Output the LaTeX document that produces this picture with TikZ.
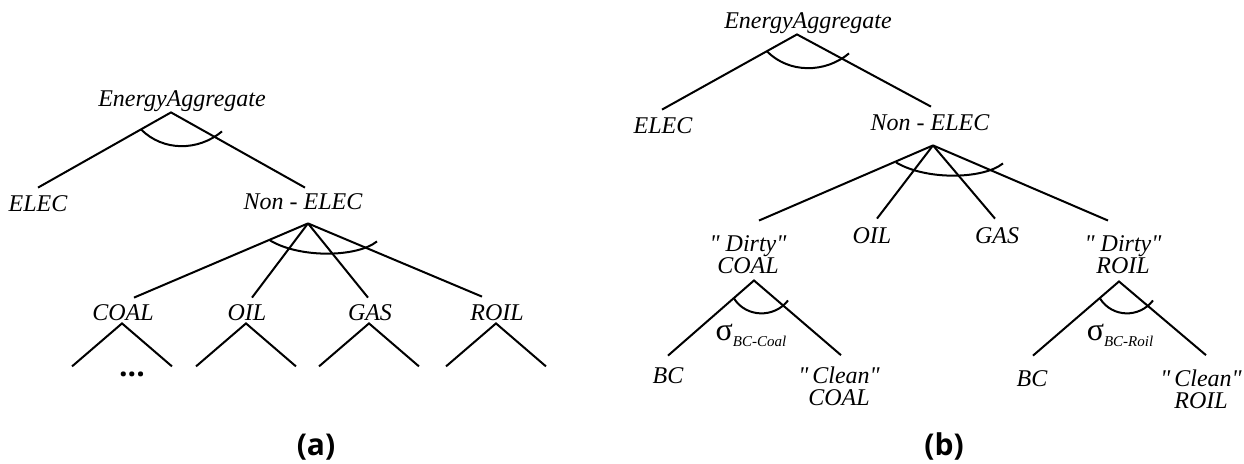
\documentclass[tikz,border=0pt]{standalone}
\usepackage{fontspec}
\setmainfont{Liberation Serif}
\newfontfamily\plainserif{Liberation Serif}
\newfontfamily\capfont{Open Sans}
\usetikzlibrary{positioning,calc}

\tikzset{
  lbl/.style={font=\plainserif\fontsize{12}{11}\selectfont\itshape, inner sep=0pt,
    text height=11.5pt, text depth=3pt, anchor=base},
  two/.style={font=\plainserif\fontsize{12}{11}\selectfont\itshape, inner xsep=0pt,
    inner ysep=5pt, align=center},
  sig/.style={font=\plainserif\fontsize{16}{16}\selectfont, inner sep=0pt, anchor=base},
  panellbl/.style={font=\capfont\bfseries\fontsize{15}{15}\selectfont, inner sep=0pt, anchor=base},
  branch/.style={line width=1pt}
}
\newcommand{\subsig}[1]{σ\raisebox{-3pt}{\fontsize{7.5}{8}\selectfont\itshape #1}}

\begin{document}
\begin{tikzpicture}[x=0.5pt,y=-0.5pt]
\useasboundingbox (0,0) rectangle (1244,463);

% (a) the nested tree
\node[lbl] (eaA) at (182,106) {EnergyAggregate};
\node[lbl] (elecA) at (38,211) {ELEC};
\node[lbl] (nonA) at (303,209) {Non - ELEC};
\node[lbl] (coalA) at (123,320) {COAL};
\node[lbl] (oilA) at (247,320) {OIL};
\node[lbl] (gasA) at (370,320) {GAS};
\node[lbl] (roilA) at (497,320) {ROIL};
\node[panellbl] (dotsA) at (132,376) {...};
\node[panellbl] (capA) at (316,455) {(a)};

\coordinate (eaA-t) at ([shift={(-11,0)}]eaA.south);
\draw[branch] (elecA.north) -- (eaA-t) -- ([shift={(2,2)}]nonA.north);
\draw[branch] ([shift={(-30,17)}]eaA-t) .. controls +(22,22) and +(-24,20) .. ([shift={(51,19)}]eaA-t);

\coordinate (nonA-t) at ([shift={(5,8)}]nonA.south);
\draw[branch] (nonA-t) -- ([shift={(11,1)}]coalA.north);
\draw[branch] (nonA-t) -- ([shift={(5,1)}]oilA.north);
\draw[branch] (nonA-t) -- ([shift={(-2,1)}]gasA.north);
\draw[branch] (nonA-t) -- ([shift={(-15,0)}]roilA.north);
\draw[branch] ([shift={(-38,17)}]nonA-t) .. controls +(30,18) and +(-20,16) .. ([shift={(69,18)}]nonA-t);

\foreach \n in {coalA,oilA,gasA,roilA}{
  \coordinate (\n-t) at ([shift={(-1,-3)}]\n.south);
  \coordinate (\n-l) at ([shift={(-50,43)}]\n-t);
  \coordinate (\n-r) at ([shift={(50,43)}]\n-t);
  \draw[branch] (\n-l) -- (\n-t) -- (\n-r);
}

% (b) with black carbon split
\node[lbl] (eaB) at (808,28) {EnergyAggregate};
\node[lbl] (elecB) at (663,133) {ELEC};
\node[lbl] (nonB) at (930,130) {Non - ELEC};
\node[two] (dcoalB) at (748,255) {" Dirty"\\COAL};
\node[lbl] (oilB) at (872,243) {OIL};
\node[lbl] (gasB) at (997,243) {GAS};
\node[two] (droilB) at (1123,255) {" Dirty"\\ROIL};
\node[lbl] (bcC) at (668,383) {BC};
\node[two] (cleanC) at (839,386) {"\,Clean"\\COAL};
\node[sig] (sigC) at (751,340) {\subsig{BC-Coal}};
\node[lbl] (bcR) at (1032,386) {BC};
\node[two] (cleanR) at (1201,389) {"\,Clean"\\ROIL};
\node[sig] (sigR) at (1120,340) {\subsig{BC-Roil}};
\node[panellbl] (capB) at (944,455) {(b)};

\coordinate (eaB-t) at ([shift={(-11,0)}]eaB.south);
\draw[branch] ([shift={(-1,0)}]elecB.north) -- (eaB-t) -- ([shift={(1,0)}]nonB.north);
\draw[branch] ([shift={(-30,17)}]eaB-t) .. controls +(22,22) and +(-24,20) .. ([shift={(52,19)}]eaB-t);

\coordinate (nonB-t) at ([shift={(3,9)}]nonB.south);
\draw[branch] (nonB-t) -- ([shift={(11,-5)}]dcoalB.north);
\draw[branch] (nonB-t) -- ([shift={(5,-1)}]oilB.north);
\draw[branch] (nonB-t) -- ([shift={(-2,-1)}]gasB.north);
\draw[branch] (nonB-t) -- ([shift={(-15,-5)}]droilB.north);
\draw[branch] ([shift={(-37,17)}]nonB-t) .. controls +(30,18) and +(-20,16) .. ([shift={(70,18)}]nonB-t);

\coordinate (dcoalB-t) at ([shift={(6,-4)}]dcoalB.south);
\draw[branch] ([shift={(0,-4)}]bcC.north) -- (dcoalB-t) -- ([shift={(2,-1)}]cleanC.north);
\draw[branch] ([shift={(-20,18)}]dcoalB-t) .. controls +(12,19) and +(-14,18) .. ([shift={(34,20)}]dcoalB-t);

\coordinate (droilB-t) at ([shift={(-4,-3)}]droilB.south);
\draw[branch] ([shift={(1,-7)}]bcR.north) -- (droilB-t) -- ([shift={(5,-4)}]cleanR.north);
\draw[branch] ([shift={(-19,17)}]droilB-t) .. controls +(12,19) and +(-14,18) .. ([shift={(34,19)}]droilB-t);
\end{tikzpicture}
\end{document}
